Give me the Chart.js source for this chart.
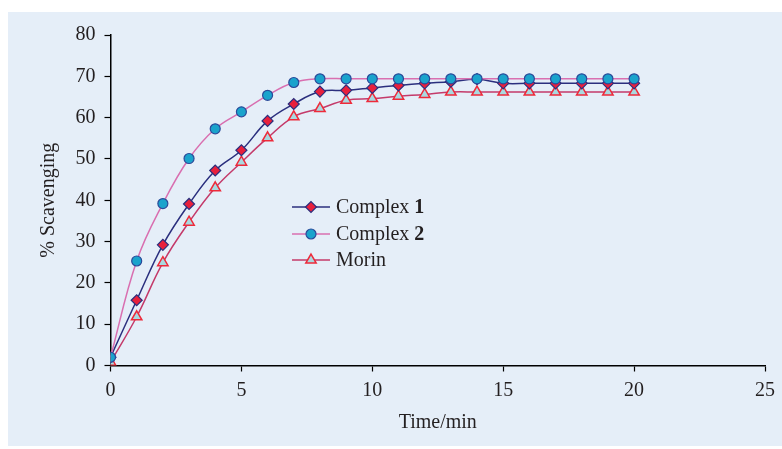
<!DOCTYPE html>
<html>
<head>
<meta charset="utf-8">
<script src="https://cdn.jsdelivr.net/npm/chart.js@4.4.1/dist/chart.umd.min.js"></script>
<style>
html,body{margin:0;padding:0;background:#fff;}
#wrap{width:782px;height:449px;position:relative;}
</style>
</head>
<body>
<div id="wrap"><canvas id="c" width="782" height="449"></canvas></div>
<script>
const times    = [0,1,2,3,4,5,6,7,8,9,10,11,12,13,14,15,16,17,18,19,20];
const complex1 = [2,15.8,29.2,39.1,47.2,52.1,59.2,63.3,66.3,66.6,67.2,67.8,68.3,68.7,69.3,68.3,68.3,68.3,68.3,68.3,68.3];
const complex2 = [2,25.3,39.2,50.1,57.3,61.4,65.4,68.5,69.4,69.4,69.4,69.4,69.4,69.4,69.4,69.4,69.4,69.4,69.4,69.4,69.4];
const morin    = [0.8,11.8,24.9,34.7,43.0,49.2,55.1,60.2,62.2,64.2,64.6,65.2,65.6,66.2,66.2,66.2,66.2,66.2,66.2,66.2,66.2];
const xTicks = [0,5,10,15,20,25];
const yTicks = [0,10,20,30,40,50,60,70,80];
const legendItems = [
  {name:'Complex ', bold:'1'},
  {name:'Complex ', bold:'2'},
  {name:'Morin', bold:''}
];

const FONT = "'Liberation Serif', 'Times New Roman', serif";
const pts = arr => times.map((t,i)=>({x:t,y:arr[i]}));

const bgPlugin = {
  id:'bg',
  beforeDraw(chart){
    const ctx = chart.ctx;
    ctx.save();
    ctx.fillStyle='#ffffff';
    ctx.fillRect(0,0,chart.width,chart.height);
    ctx.fillStyle='#e5eef8';
    ctx.fillRect(8,12,chart.width-8,chart.height-15);
    ctx.restore();
  }
};

const legendPlugin = {
  id:'customLegend',
  afterDraw(chart){
    const ctx = chart.ctx;
    const x0 = 292, x1 = 330, tx = 336;
    const rows = [207, 234, 260];
    chart.data.datasets.forEach((ds,i)=>{
      const y = rows[i];
      ctx.save();
      ctx.strokeStyle = ds.borderColor;
      ctx.lineWidth = ds.borderWidth;
      ctx.beginPath(); ctx.moveTo(x0,y); ctx.lineTo(x1,y); ctx.stroke();
      ctx.fillStyle = ds.pointBackgroundColor;
      ctx.strokeStyle = ds.pointBorderColor;
      ctx.lineWidth = ds.pointBorderWidth;
      Chart.helpers.drawPoint(ctx,{pointStyle:ds.pointStyle,radius:ds.pointRadius,rotation:0,borderWidth:ds.pointBorderWidth},(x0+x1)/2,y);
      ctx.fillStyle='#231f20';
      ctx.textBaseline='middle';
      ctx.textAlign='left';
      const it = legendItems[i];
      ctx.font = '20px ' + FONT;
      ctx.fillText(it.name, tx, y+1);
      const w = ctx.measureText(it.name).width;
      if (it.bold){
        ctx.font = 'bold 20px ' + FONT;
        ctx.fillText(it.bold, tx+w, y+1);
      }
      ctx.restore();
    });
  }
};

new Chart(document.getElementById('c'),{
  type:'line',
  data:{
    datasets:[
      {label:'Complex 1', data:pts(complex1), borderColor:'#2b2f7e', borderWidth:1.5,
       pointStyle:'rectRot', pointRadius:5.5, pointBackgroundColor:'#e8203c', pointBorderColor:'#2b2f7e', pointBorderWidth:1.2,
       tension:0.4, order:1},
      {label:'Complex 2', data:pts(complex2), borderColor:'#d96fb0', borderWidth:1.5,
       pointStyle:'circle', pointRadius:5, pointBackgroundColor:'#1aa3cc', pointBorderColor:'#2a4a9a', pointBorderWidth:1.2,
       tension:0.4, order:0},
      {label:'Morin', data:pts(morin), borderColor:'#c43a6a', borderWidth:1.5,
       pointStyle:'triangle', pointRadius:6, pointBackgroundColor:'#a9d9e0', pointBorderColor:'#ee2a3a', pointBorderWidth:1.5,
       tension:0.4, order:2}
    ]
  },
  options:{
    responsive:false,
    animation:false,
    layout:{padding:{left:0,top:35,right:11.5,bottom:0}},
    plugins:{legend:{display:false},tooltip:{enabled:false}},
    scales:{
      x:{
        type:'linear', min:0, max:25,
        afterBuildTicks(s){ s.ticks = xTicks.map(v=>({value:v})); },
        afterFit(s){ s.height = 83.5; },
        grid:{drawOnChartArea:false, tickLength:6, color:'#000', tickColor:'#000', tickWidth:1.2},
        border:{color:'#000', width:1.5},
        ticks:{color:'#231f20', font:{family:FONT,size:20}, padding:7, maxRotation:0},
        title:{display:true, text:'Time/min', color:'#231f20', font:{family:FONT,size:20}, padding:{top:0,bottom:14}}
      },
      y:{
        type:'linear', min:0, max:80,
        afterBuildTicks(s){ s.ticks = yTicks.map(v=>({value:v})); },
        afterFit(s){ s.width = 110.5; },
        grid:{drawOnChartArea:false, tickLength:6, color:'#000', tickColor:'#000', tickWidth:1.2},
        border:{color:'#000', width:1.5},
        ticks:{color:'#231f20', font:{family:FONT,size:20}, padding:9},
        title:{display:true, text:'% Scavenging', color:'#231f20', font:{family:FONT,size:20}, padding:{top:37,bottom:0}}
      }
    }
  },
  plugins:[bgPlugin, legendPlugin]
});
</script>
</body>
</html>
